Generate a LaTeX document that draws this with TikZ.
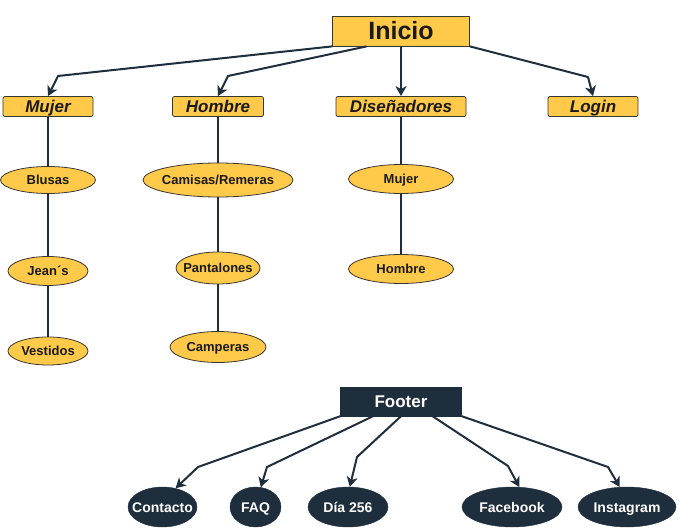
\documentclass[tikz,border=0pt]{standalone}
\usepackage{fontspec}
\setmainfont{Liberation Sans}
\usetikzlibrary{arrows.meta,calc,shapes.geometric}
\definecolor{cYel}{HTML}{FFC94A}
\definecolor{cNavy}{HTML}{1E2E3D}
\definecolor{cEdge}{HTML}{3A3630}
\definecolor{cText}{HTML}{1A1A1A}
\newcommand\zc[1]{\makebox[0pt][c]{#1}}
\begin{document}
\begin{tikzpicture}[x=1pt,y=-1pt,
  topbox/.style={draw=cEdge, fill=cYel, line width=0.8pt, minimum width=137pt, minimum height=30pt, inner sep=0pt, text height=18pt, text depth=0pt, text=cText, font=\fontsize{25}{28}\selectfont\bfseries},
  catbox/.style={draw=cEdge, fill=cYel, line width=0.8pt, rounded corners=2pt, minimum height=20pt, inner sep=0pt, text height=12.2pt, text depth=0pt, text=cText, font=\fontsize{17}{20}\selectfont\bfseries\itshape},
  yell/.style={ellipse, draw=cEdge, fill=cYel, line width=0.8pt, inner sep=0pt, text height=9.4pt, text depth=0pt, text=cText, font=\fontsize{13}{15}\selectfont\bfseries},
  footbox/.style={draw=cNavy, fill=cNavy, text=white, minimum width=121pt, minimum height=29pt, inner sep=0pt, text height=12.2pt, text depth=0pt, font=\fontsize{17}{20}\selectfont\bfseries},
  nell/.style={ellipse, draw=cNavy, fill=cNavy, text=white, inner sep=0pt, minimum height=40pt, text height=10pt, text depth=0pt, font=\fontsize{14}{16}\selectfont\bfseries},
  conn/.style={draw=cNavy, line width=2pt, line join=round, -{Stealth[length=10pt,width=11pt,inset=3pt]}},
  plain/.style={draw=cNavy, line width=2pt}
]
\useasboundingbox (0,0) rectangle (679,529);

% top level
\node[topbox] (inicio) at (401,31) {Inicio};
\node[catbox, minimum width=90pt] (mujer) at (48,106.5) {Mujer};
\node[catbox, minimum width=91pt] (hombre) at (218,106.5) {Hombre};
\node[catbox, minimum width=130pt] (dis) at (401,106.5) {Diseñadores};
\node[catbox, minimum width=90pt] (login) at (593,106.5) {Login};

% ellipses
\node[yell, minimum width=95pt, minimum height=27pt] (blusas) at (48,180) {\zc{Blusas}};
\node[yell, minimum width=80pt, minimum height=29pt] (jeans) at (48,271) {\zc{Jean´s}};
\node[yell, minimum width=80pt, minimum height=28pt] (vestidos) at (48,351) {\zc{Vestidos}};
\node[yell, minimum width=150pt, minimum height=34pt] (camisas) at (218,180) {\zc{Camisas/Remeras}};
\node[yell, minimum width=84pt, minimum height=32pt] (pantalones) at (218,268) {\zc{Pantalones}};
\node[yell, minimum width=96pt, minimum height=31pt] (camperas) at (218,347) {\zc{Camperas}};
\node[yell, minimum width=105pt, minimum height=29pt] (dmujer) at (401,179) {\zc{Mujer}};
\node[yell, minimum width=105pt, minimum height=29pt] (dhombre) at (401,269) {\zc{Hombre}};

% footer
\node[footbox] (footer) at (401,401.5) {Footer};
\node[nell, minimum width=69pt] (contacto) at (162.5,507) {\zc{Contacto}};
\node[nell, minimum width=51pt] (faq) at (255.5,507) {\zc{FAQ}};
\node[nell, minimum width=80pt] (dia) at (348,507) {\zc{Día 256}};
\node[nell, minimum width=100pt] (facebook) at (512,507) {\zc{Facebook}};
\node[nell, minimum width=98pt] (instagram) at (627,507) {\zc{Instagram}};

% bend points
\coordinate (b1) at (58,76);
\coordinate (b2) at (228,76);
\coordinate (b4) at (588,77);
\coordinate (f1) at (198,467);
\coordinate (f2) at (267,467);
\coordinate (f3) at (357,457);
\coordinate (f4) at (508,466);
\coordinate (f5) at (608,467);

% connectors from Inicio
\draw[conn] (inicio.south west) -- (b1) -- (mujer.north);
\draw[conn] ($(inicio.south west)!0.25!(inicio.south east)$) -- (b2) -- (hombre.north);
\draw[conn] (inicio.south) -- (dis.north);
\draw[conn] (inicio.south east) -- (b4) -- (login.north);

% vertical lines
\draw[plain] (mujer) -- (blusas);
\draw[plain] (blusas) -- (jeans);
\draw[plain] (jeans) -- (vestidos);
\draw[plain] (hombre) -- (camisas);
\draw[plain] (camisas) -- (pantalones);
\draw[plain] (pantalones) -- (camperas);
\draw[plain] (dis) -- (dmujer);
\draw[plain] (dmujer) -- (dhombre);

% connectors from Footer
\draw[conn] (footer.south west) -- (f1) -- (contacto.55);
\draw[conn] ($(footer.south west)!0.27!(footer.south east)$) -- (f2) -- (faq.75);
\draw[conn] (footer.south) -- (f3) -- (dia.85);
\draw[conn] ($(footer.south west)!0.76!(footer.south east)$) -- (f4) -- (facebook.70);
\draw[conn] (footer.south east) -- (f5) -- (instagram.110);
\end{tikzpicture}
\end{document}
